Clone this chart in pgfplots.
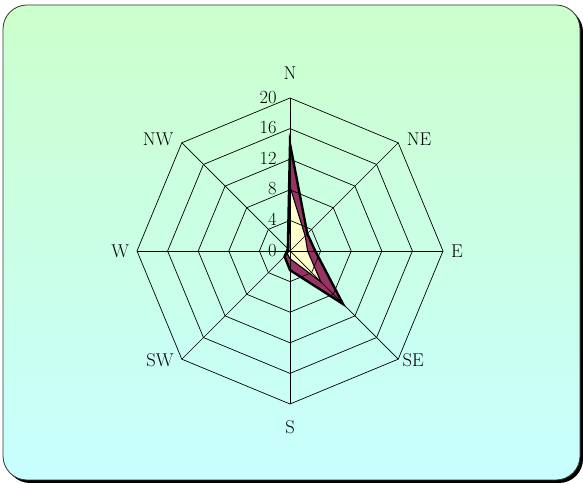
\documentclass[border=0pt]{standalone}
\usepackage{pgfplots}
\usepackage{pgfplotstable}
\pgfplotsset{compat=1.18}
\definecolor{plum}{RGB}{153,51,102}
\definecolor{lightyel}{RGB}{255,255,204}
\definecolor{bgtop}{RGB}{204,255,204}
\definecolor{bgbot}{RGB}{200,255,255}
\tikzset{lbl/.style={font=\fontsize{18.5}{22}\selectfont}}

% wind directions: angle (deg, N = 90) and value
\pgfplotstableread{
ang r
90 14
45 3.2
0 3.3
-45 9.8
-90 2.5
-135 1
180 0.4
135 0.4
90 14
}\outerdata

\pgfplotstableread{
ang r
90 8.4
45 2.8
0 2.3
-45 5.7
-90 1
-135 0.5
180 0.3
135 0.2
90 8.4
}\innerdata

\pgfplotstableread{
ang u
90 1
45 1
0 1
-45 1
-90 1
-135 1
180 1
135 1
90 1
}\ringdata

\begin{document}
\begin{tikzpicture}
\useasboundingbox (0,0) rectangle (583pt,484pt);
\fill[black, rounded corners=24pt] (6pt,1pt) rectangle (583pt,476pt);
\shadedraw[top color=bgtop, bottom color=bgbot, draw=black!80, line width=0.8pt, rounded corners=24pt] (3pt,4pt) rectangle (580pt,479pt);
\begin{axis}[
  at={(290pt,233pt)}, anchor=center,
  scale only axis, hide axis,
  x=7.65pt, y=7.65pt,
  xmin=-25, xmax=25, ymin=-25, ymax=25,
  clip=false,
]
\addplot[fill=plum, draw=black, line width=2.4pt, line join=miter]
  table[x expr={\thisrow{r}*cos(\thisrow{ang})}, y expr={\thisrow{r}*sin(\thisrow{ang})}] {\outerdata} -- cycle;
\addplot[fill=lightyel, draw=black, line width=1.1pt, line join=miter]
  table[x expr={\thisrow{r}*cos(\thisrow{ang})}, y expr={\thisrow{r}*sin(\thisrow{ang})}] {\innerdata} -- cycle;
\pgfplotsinvokeforeach{4,8,12,16,20}{
  \addplot[black, line width=0.7pt]
    table[x expr={#1*\thisrow{u}*cos(\thisrow{ang})}, y expr={#1*\thisrow{u}*sin(\thisrow{ang})}] {\ringdata};
}
\addplot[black, line width=0.7pt] coordinates {(0,20) (0,-20)};
\addplot[black, line width=0.7pt] coordinates {(20,0) (-20,0)};
\addplot[black, line width=0.7pt] coordinates {(14.142,14.142) (-14.142,-14.142)};
\addplot[black, line width=0.7pt] coordinates {(-14.142,14.142) (14.142,-14.142)};
\node[lbl, anchor=east] at (axis cs:-1.3,0.1) {0};
\node[lbl, anchor=east] at (axis cs:-1.3,4.1) {4};
\node[lbl, anchor=east] at (axis cs:-1.3,8.1) {8};
\node[lbl, anchor=east] at (axis cs:-1.3,12.1) {12};
\node[lbl, anchor=east] at (axis cs:-1.3,16.1) {16};
\node[lbl, anchor=east] at (axis cs:-1.3,20.1) {20};
\node[lbl] at (axis cs:0,23.27) {N};
\node[lbl] at (axis cs:16.86,14.64) {NE};
\node[lbl] at (axis cs:21.83,0) {E};
\node[lbl] at (axis cs:16.1,-14.25) {SE};
\node[lbl] at (axis cs:0,-23.0) {S};
\node[lbl] at (axis cs:-17.0,-14.25) {SW};
\node[lbl] at (axis cs:-22.2,0) {W};
\node[lbl] at (axis cs:-17.25,14.64) {NW};
\end{axis}
\end{tikzpicture}
\end{document}
